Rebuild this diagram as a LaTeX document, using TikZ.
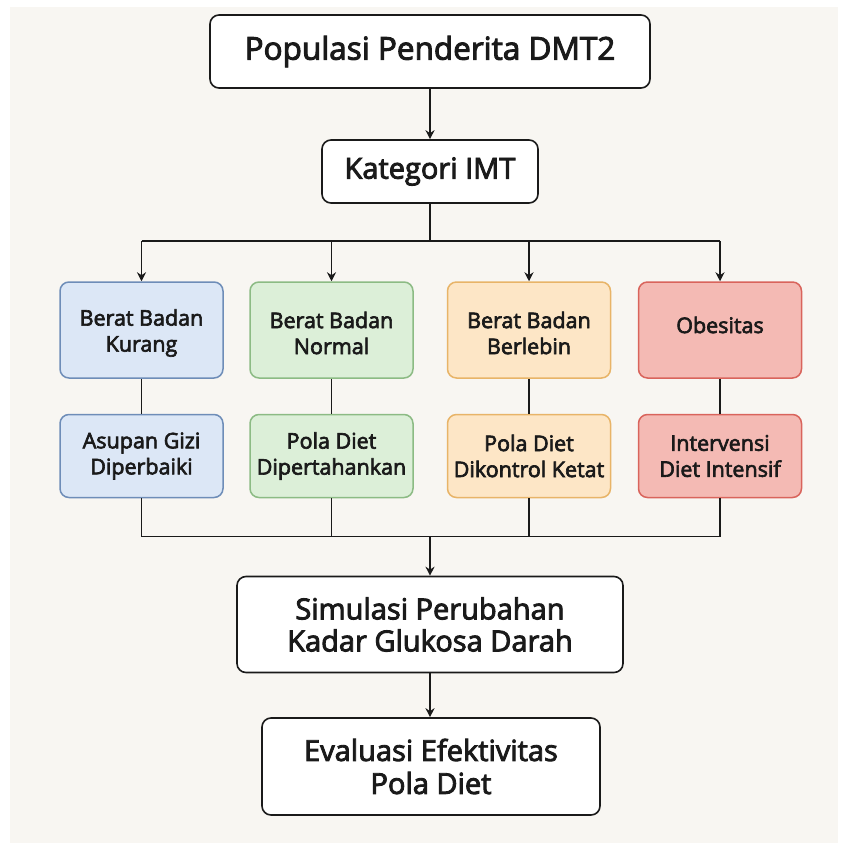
\documentclass[tikz,border=0pt]{standalone}
\usepackage{fontspec}
\setmainfont{Open Sans}[FakeBold=3]
\usetikzlibrary{arrows.meta}
\definecolor{bg}{HTML}{F8F6F2}
\definecolor{bfill}{HTML}{DCE7F6}\definecolor{bdraw}{HTML}{6E8DB8}
\definecolor{gfill}{HTML}{DCEFD8}\definecolor{gdraw}{HTML}{8CBB84}
\definecolor{ofill}{HTML}{FDE6C6}\definecolor{odraw}{HTML}{E8B468}
\definecolor{rfill}{HTML}{F4BAB4}\definecolor{rdraw}{HTML}{D9645C}
\definecolor{ink}{HTML}{1A1A1A}
\tikzset{
  mainbox/.style={draw=ink, fill=white, line width=1.6pt, rounded corners=9pt, align=center, inner sep=0pt, text=ink},
  catbox/.style={line width=1.5pt, rounded corners=9pt, align=center, inner sep=0pt, minimum width=163pt, font=\fontsize{21.5}{26}\selectfont, text=ink},
  cattext/.style={font=\fontsize{21.5}{26}\selectfont, text=ink, inner sep=0pt, align=center},
  wire/.style={draw=ink, line width=1.4pt},
  arr/.style={wire, -{Stealth[length=9pt,width=9pt]}},
}
\begin{document}
\begin{tikzpicture}[x=1pt,y=-1pt]
\fill[white] (0,0) rectangle (842,846);
\fill[bg] (10,7) rectangle (838,843);
\useasboundingbox (0,0) rectangle (842,846);

\node[mainbox, minimum width=440pt, minimum height=73pt, font=\fontsize{31.5}{36}\selectfont] (pop) at (430,51.5) {Populasi Penderita DMT2};
\node[mainbox, minimum width=216pt, minimum height=63pt, font=\fontsize{29}{32}\selectfont] (imt) at (430,171.5) {Kategori IMT};

\node[catbox, draw=bdraw, fill=bfill, minimum height=96pt] (c1) at (141.5,330) {};
\node[catbox, draw=gdraw, fill=gfill, minimum height=96pt] (c2) at (331.5,330) {};
\node[catbox, draw=odraw, fill=ofill, minimum height=96pt] (c3) at (529,330) {};
\node[catbox, draw=rdraw, fill=rfill, minimum height=96pt] (c4) at (720,330) {};
\node[cattext] (c1t) at ([yshift=-3pt]c1.center) {Berat Badan\\Kurang};
\node[cattext] (c2t) at ([yshift=-3pt]c2.center) {Berat Badan\\Normal};
\node[cattext] (c3t) at ([yshift=-3pt]c3.center) {Berat Badan\\Berlebin};
\node[cattext] (c4t) at ([yshift=5pt]c4.center) {Obesitas};

\node[catbox, draw=bdraw, fill=bfill, minimum height=83pt] (d1) at (141.5,456) {Asupan Gizi\\Diperbaiki};
\node[catbox, draw=gdraw, fill=gfill, minimum height=83pt] (d2) at (331.5,456) {Pola Diet\\Dipertahankan};
\node[catbox, draw=odraw, fill=ofill, minimum height=83pt] (d3) at (529,456) {Pola Diet\\Dikontrol Ketat};
\node[catbox, draw=rdraw, fill=rfill, minimum height=83pt] (d4) at (720,456) {Intervensi\\Diet Intensif};

\node[mainbox, minimum width=386pt, minimum height=96pt, font=\fontsize{29}{32}\selectfont] (sim) at (430,624.5) {Simulasi Perubahan\\Kadar Glukosa Darah};
\node[mainbox, minimum width=338pt, minimum height=97pt, font=\fontsize{29}{33}\selectfont] (eva) at (431,766.5) {Evaluasi Efektivitas\\Pola Diet};

\coordinate (bt) at (430,241);
\coordinate (bb) at (430,536.5);

\draw[arr] (pop) -- (imt);
\draw[wire] (imt.south) -- (bt);
\draw[wire] (c1.north |- bt) -- (c4.north |- bt);
\foreach \c in {c1,c2,c3,c4} \draw[arr] (\c.north |- bt) -- (\c.north);
\foreach \i in {1,2,3,4} \draw[wire] (c\i.south) -- (d\i.north);
\foreach \i in {1,2,3,4} \draw[wire] (d\i.south) -- (d\i.south |- bb);
\draw[wire] (d1.south |- bb) -- (d4.south |- bb);
\draw[arr] (bb) -- (sim.north);
\draw[arr] (sim.south) -- (sim.south |- eva.north);
\end{tikzpicture}
\end{document}
